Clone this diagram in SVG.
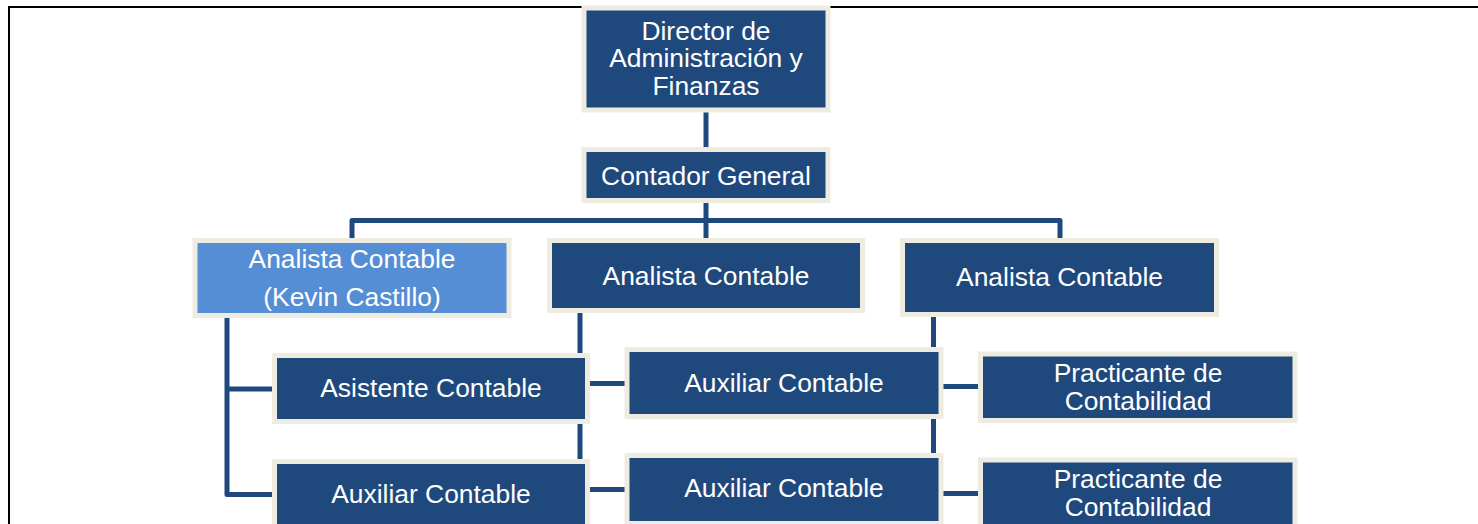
<svg xmlns="http://www.w3.org/2000/svg" width="1478" height="524" viewBox="0 0 1478 524">
<style>
.box{fill:#1F497D;stroke:#EEECE1;stroke-width:5;}
.hl{fill:#558ED5;stroke:#EEECE1;stroke-width:5;}
.t{font-family:"Liberation Sans",Arial,sans-serif;font-size:26.4px;fill:#FFFFFF;text-anchor:middle;}
.c{fill:none;stroke:#1F497D;stroke-width:5;stroke-linejoin:round;}
</style>
<rect width="1478" height="524" fill="#FFFFFF"/>
<path d="M9,524 V7 H1478" fill="none" stroke="#000000" stroke-width="2"/>
<g id="connectors">
<path class="c" d="M706,112 V147"/>
<path class="c" d="M706,203 V240"/>
<path class="c" d="M352,240 V220.5 H1060 V240"/>
<path class="c" d="M227,318 V494.5 H274"/>
<path class="c" d="M227,389 H274"/>
<path class="c" d="M580,313 V459"/>
<path class="c" d="M580,383.5 H627"/>
<path class="c" d="M580,489.5 H627"/>
<path class="c" d="M933.5,317 V455"/>
<path class="c" d="M933.5,386.5 H980"/>
<path class="c" d="M933.5,493.5 H980"/>
</g>
<g id="director">
<rect class="box" x="584" y="8" width="244" height="102"/>
<text class="t" x="706" y="39.5">Director de</text>
<text class="t" x="706" y="67">Administración y</text>
<text class="t" x="706" y="94.5">Finanzas</text>
</g>
<g id="contador">
<rect class="box" x="584" y="149.5" width="244" height="51"/>
<text class="t" x="706" y="184.5">Contador General</text>
</g>
<g id="analista1">
<rect class="hl" x="195" y="240.5" width="314" height="75"/>
<text class="t" x="352" y="268">Analista Contable</text>
<text class="t" x="352" y="306">(Kevin Castillo)</text>
</g>
<g id="analista2">
<rect class="box" x="549.5" y="240.5" width="313" height="70"/>
<text class="t" x="706" y="284.5">Analista Contable</text>
</g>
<g id="analista3">
<rect class="box" x="902.5" y="240.5" width="314" height="74"/>
<text class="t" x="1059.5" y="286">Analista Contable</text>
</g>
<g id="asistente">
<rect class="box" x="274.5" y="355.5" width="313" height="66"/>
<text class="t" x="431" y="397">Asistente Contable</text>
</g>
<g id="auxiliar1">
<rect class="box" x="274.5" y="461.5" width="313" height="70"/>
<text class="t" x="431" y="502.5">Auxiliar Contable</text>
</g>
<g id="auxiliar2">
<rect class="box" x="627" y="349.5" width="314" height="67"/>
<text class="t" x="784" y="392">Auxiliar Contable</text>
</g>
<g id="auxiliar3">
<rect class="box" x="627" y="455.5" width="314" height="68"/>
<text class="t" x="784" y="497">Auxiliar Contable</text>
</g>
<g id="practicante1">
<rect class="box" x="980.5" y="354" width="314.5" height="66.5"/>
<text class="t" x="1138" y="381.5">Practicante de</text>
<text class="t" x="1138" y="410">Contabilidad</text>
</g>
<g id="practicante2">
<rect class="box" x="980.5" y="460" width="314.5" height="70"/>
<text class="t" x="1138" y="487.5">Practicante de</text>
<text class="t" x="1138" y="515.5">Contabilidad</text>
</g>
</svg>
